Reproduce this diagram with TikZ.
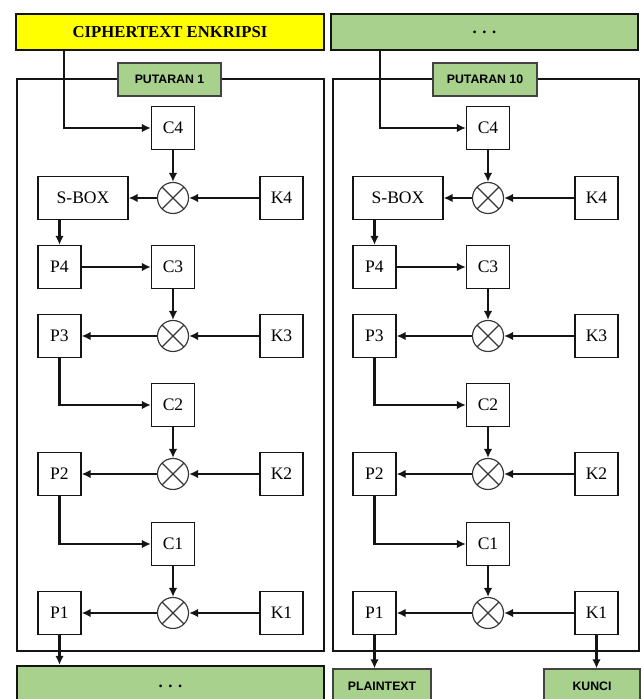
\documentclass[tikz,border=0pt]{standalone}
\usepackage{fontspec}
\setmainfont{Liberation Serif}
\setsansfont{Liberation Sans}
\usetikzlibrary{arrows.meta}
\definecolor{Ink}{RGB}{20,20,20}
\definecolor{HeadYellow}{RGB}{255,255,0}
\definecolor{SoftGreen}{RGB}{169,209,142}
\tikzset{
  >=Latex,
  cell/.style={draw=Ink,line width=.7pt,fill=white,align=center,font=\fontsize{10}{12}\selectfont,minimum width=.86cm,minimum height=.86cm,inner sep=1pt},
  sbox/.style={cell,minimum width=1.8cm},
  mix/.style={circle,draw=Ink!85,line width=.65pt,fill=white,minimum size=.62cm,inner sep=0pt,
    path picture={\draw[line width=.65pt,draw=Ink!85] (path picture bounding box.north west) -- (path picture bounding box.south east)
      (path picture bounding box.north east) -- (path picture bounding box.south west);}},
  head/.style={draw=Ink,line width=1.3pt,align=center,font=\bfseries\fontsize{9.5}{11}\selectfont,minimum height=.72cm,inner sep=2pt},
  tag/.style={draw=Ink!80,line width=.7pt,fill=SoftGreen,font=\sffamily\bfseries\fontsize{7}{8}\selectfont,minimum height=.66cm,inner sep=2pt},
  frame/.style={draw=Ink,line width=1.2pt},
  flow/.style={-{Latex[length=1.8mm,width=1.7mm]},line width=1.3pt,draw=Ink}
}
\begin{document}
\begin{tikzpicture}[x=1cm,y=1cm]
  \useasboundingbox (0,0) rectangle (12.84,13.98);
  \clip (0,0) rectangle (12.84,13.98);
  % headers
  \node[head,fill=HeadYellow,minimum width=6.16cm] (cipher) at (3.40,13.34) {CIPHERTEXT ENKRIPSI};
  \node[head,fill=SoftGreen,minimum width=6.14cm] (dotsTop) at (9.69,13.34) {. . .};
  % round 1
  \node[frame,minimum width=6.14cm,minimum height=11.44cm] (roundL) at (3.41,6.68) {};
  \node[tag,minimum width=2.06cm] (tagL) at (3.39,12.39) {PUTARAN 1};
  \node[cell] (c4L) at (3.46,11.42) {C4};
  \node[mix] (x4L) at (3.46,10.02) {};
  \node[sbox] (sboxL) at (1.66,10.02) {S-BOX};
  \node[cell] (k4L) at (5.63,10.02) {K4};
  \node[cell] (p4L) at (1.19,8.64) {P4};
  \node[cell] (c3L) at (3.46,8.64) {C3};
  \node[mix] (x3L) at (3.46,7.26) {};
  \node[cell] (p3L) at (1.19,7.26) {P3};
  \node[cell] (k3L) at (5.63,7.26) {K3};
  \node[cell] (c2L) at (3.46,5.88) {C2};
  \node[mix] (x2L) at (3.46,4.50) {};
  \node[cell] (p2L) at (1.19,4.50) {P2};
  \node[cell] (k2L) at (5.63,4.50) {K2};
  \node[cell] (c1L) at (3.46,3.10) {C1};
  \node[mix] (x1L) at (3.46,1.72) {};
  \node[cell] (p1L) at (1.19,1.72) {P1};
  \node[cell] (k1L) at (5.63,1.72) {K1};
  \draw[flow] ([xshift=-2.12cm]cipher.south) |- (c4L.west);
  \draw[flow] (c4L) -- (x4L);
  \draw[flow] (k4L) -- (x4L);
  \draw[flow] (x4L) -- (sboxL);
  \draw[flow] (sboxL.south -| p4L) -- (p4L);
  \draw[flow] (p4L) -- (c3L);
  \draw[flow] (c3L) -- (x3L);
  \draw[flow] (k3L) -- (x3L);
  \draw[flow] (x3L) -- (p3L);
  \draw[flow] (p3L) |- (c2L);
  \draw[flow] (c2L) -- (x2L);
  \draw[flow] (k2L) -- (x2L);
  \draw[flow] (x2L) -- (p2L);
  \draw[flow] (p2L) |- (c1L);
  \draw[flow] (c1L) -- (x1L);
  \draw[flow] (k1L) -- (x1L);
  \draw[flow] (x1L) -- (p1L);
  % round 10
  \node[frame,minimum width=6.12cm,minimum height=11.44cm] (roundR) at (9.72,6.68) {};
  \node[tag,minimum width=2.08cm] (tagR) at (9.70,12.39) {PUTARAN 10};
  \node[cell] (c4R) at (9.76,11.42) {C4};
  \node[mix] (x4R) at (9.76,10.02) {};
  \node[sbox] (sboxR) at (7.96,10.02) {S-BOX};
  \node[cell] (k4R) at (11.93,10.02) {K4};
  \node[cell] (p4R) at (7.49,8.64) {P4};
  \node[cell] (c3R) at (9.76,8.64) {C3};
  \node[mix] (x3R) at (9.76,7.26) {};
  \node[cell] (p3R) at (7.49,7.26) {P3};
  \node[cell] (k3R) at (11.93,7.26) {K3};
  \node[cell] (c2R) at (9.76,5.88) {C2};
  \node[mix] (x2R) at (9.76,4.50) {};
  \node[cell] (p2R) at (7.49,4.50) {P2};
  \node[cell] (k2R) at (11.93,4.50) {K2};
  \node[cell] (c1R) at (9.76,3.10) {C1};
  \node[mix] (x1R) at (9.76,1.72) {};
  \node[cell] (p1R) at (7.49,1.72) {P1};
  \node[cell] (k1R) at (11.93,1.72) {K1};
  \draw[flow] ([xshift=-2.09cm]dotsTop.south) |- (c4R.west);
  \draw[flow] (c4R) -- (x4R);
  \draw[flow] (k4R) -- (x4R);
  \draw[flow] (x4R) -- (sboxR);
  \draw[flow] (sboxR.south -| p4R) -- (p4R);
  \draw[flow] (p4R) -- (c3R);
  \draw[flow] (c3R) -- (x3R);
  \draw[flow] (k3R) -- (x3R);
  \draw[flow] (x3R) -- (p3R);
  \draw[flow] (p3R) |- (c2R);
  \draw[flow] (c2R) -- (x2R);
  \draw[flow] (k2R) -- (x2R);
  \draw[flow] (x2R) -- (p2R);
  \draw[flow] (p2R) |- (c1R);
  \draw[flow] (c1R) -- (x1R);
  \draw[flow] (k1R) -- (x1R);
  \draw[flow] (x1R) -- (p1R);
  % outputs
  \node[head,fill=SoftGreen,minimum width=6.14cm,minimum height=.8cm] (dotsBot) at (3.41,0.26) {. . .};
  \node[tag,minimum width=1.96cm,minimum height=.7cm] (plain) at (7.64,0.25) {PLAINTEXT};
  \node[tag,minimum width=1.92cm,minimum height=.7cm] (kunci) at (11.84,0.25) {KUNCI};
  \draw[flow] (p1L) -- (p1L |- dotsBot.north);
  \draw[flow] (p1R) -- (p1R |- plain.north);
  \draw[flow] (k1R) -- (k1R |- kunci.north);
\end{tikzpicture}
\end{document}
